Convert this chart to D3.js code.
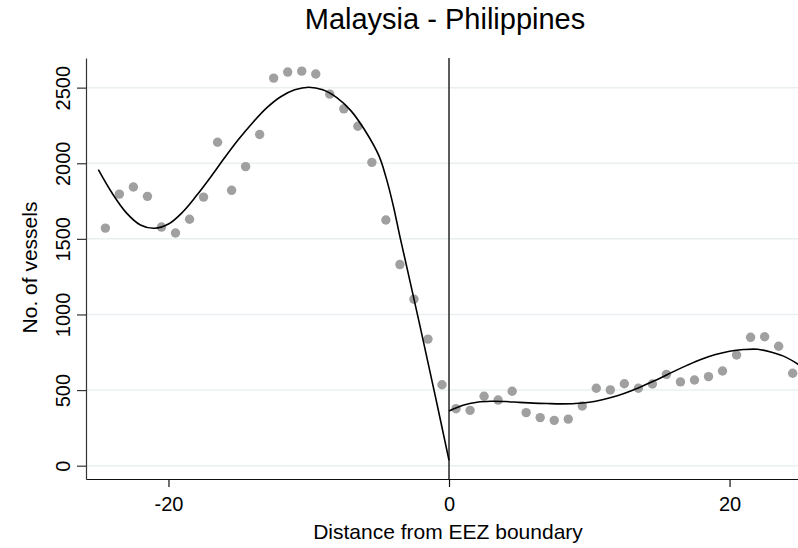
<!DOCTYPE html>
<html>
<head>
<meta charset="utf-8">
<script src="https://cdn.jsdelivr.net/npm/d3@7"></script>
<style>
  body { margin: 0; background: #fff; }
  text { font-family: "Liberation Sans", Arial, sans-serif; fill: #000; }
</style>
</head>
<body>
<div id="chart"></div>
<script>
// Binned counts: bin centres (distance from EEZ boundary) and number of vessels
var leftX = [-24.5, -23.5, -22.5, -21.5, -20.5, -19.5, -18.5, -17.5, -16.5, -15.5, -14.5, -13.5, -12.5,
  -11.5, -10.5, -9.5, -8.5, -7.5, -6.5, -5.5, -4.5, -3.5, -2.5, -1.5, -0.5];
var leftCounts = [1571, 1796, 1843, 1781, 1578, 1539, 1630, 1776, 2139, 1821, 1978, 2190, 2563,
  2603, 2609, 2590, 2457, 2360, 2245, 2006, 1625, 1330, 1101, 837, 535];
var rightX = [0.5, 1.5, 2.5, 3.5, 4.5, 5.5, 6.5, 7.5, 8.5, 9.5, 10.5, 11.5, 12.5, 13.5, 14.5, 15.5,
  16.5, 17.5, 18.5, 19.5, 20.5, 21.5, 22.5, 23.5, 24.5];
var rightCounts = [377, 366, 459, 434, 492, 351, 318, 300, 308, 395, 512, 501, 542, 512, 540, 604,
  554, 567, 589, 626, 732, 849, 853, 790, 611];

// Fitted curve on each side
var fitLeftX = [-25, -24, -23, -22, -21, -20, -19, -18, -17, -16, -15, -14, -13, -12, -11, -10, -9,
  -8, -7, -6, -5, -4.5, -4, -3.5, -3, -2, -1, 0];
var fitLeftY = [1958, 1800, 1672, 1592, 1570, 1598, 1676, 1786, 1908, 2036, 2158, 2268, 2366, 2440,
  2486, 2503, 2486, 2434, 2348, 2218, 2050, 1910, 1730, 1515, 1310, 895, 470, 35];
var fitRightX = [0, 1, 2, 3, 4, 5, 6, 7, 8, 9, 10, 11, 12, 13, 14, 15, 16, 17, 18, 19, 20, 21, 22,
  23, 24, 25];
var fitRightY = [362, 400, 420, 426, 424, 419, 414, 411, 409, 411, 420, 438, 462, 495, 535, 576,
  622, 665, 704, 735, 757, 768, 770, 750, 718, 664];

var xTicks = [-20, 0, 20];
var yTicks = [0, 500, 1000, 1500, 2000, 2500];

var W = 798, H = 548;
var margin = { top: 58, right: 0, bottom: 69, left: 86 },
  width = W - margin.left - margin.right,
  height = H - margin.top - margin.bottom;

var svg = d3.select('#chart').append('svg')
  .attr('width', W)
  .attr('height', H);

var x = d3.scaleLinear().domain([-25.88, 24.88]).range([0, width]);
var y = d3.scaleLinear().domain([-88, 2696]).range([height, 0]);

var g = svg.append('g')
  .attr('transform', 'translate(' + margin.left + ',' + margin.top + ')');

// horizontal gridlines
g.selectAll('.grid')
  .data(yTicks)
  .enter()
  .append('line')
  .attr('x1', 0)
  .attr('x2', width)
  .attr('y1', function (d) { return y(d); })
  .attr('y2', function (d) { return y(d); })
  .attr('stroke', '#eaf0f2')
  .attr('stroke-width', 1.5);

var plain = function (d) { return String(d); };

// y axis
var yAxis = g.append('g')
  .call(d3.axisLeft(y).tickValues(yTicks).tickFormat(plain).tickSize(9).tickSizeOuter(0));
yAxis.select('.domain').attr('stroke', '#333').attr('stroke-width', 1.2);
yAxis.selectAll('.tick line').attr('stroke', '#333').attr('stroke-width', 1.2);
yAxis.selectAll('.tick text')
  .attr('font-size', 20)
  .attr('transform', 'rotate(-90)')
  .attr('x', 0)
  .attr('y', -16)
  .attr('dy', 0)
  .attr('text-anchor', 'middle');

// x axis
var xAxis = g.append('g')
  .attr('transform', 'translate(0,' + height + ')')
  .call(d3.axisBottom(x).tickValues(xTicks).tickFormat(plain).tickSize(8).tickSizeOuter(0));
xAxis.select('.domain').attr('stroke', '#111').attr('stroke-width', 1.2);
xAxis.selectAll('.tick line').attr('stroke', '#111').attr('stroke-width', 1.2);
xAxis.selectAll('.tick text')
  .attr('font-size', 20)
  .attr('dy', 0)
  .attr('y', 32);

// boundary line at 0
g.append('line')
  .attr('x1', x(0))
  .attr('x2', x(0))
  .attr('y1', 0)
  .attr('y2', height)
  .attr('stroke', '#333')
  .attr('stroke-width', 1.6);

// scatter points
var pts = leftX.map(function (d, i) { return [d, leftCounts[i]]; })
  .concat(rightX.map(function (d, i) { return [d, rightCounts[i]]; }));
g.selectAll('circle')
  .data(pts)
  .enter()
  .append('circle')
  .attr('cx', function (d) { return x(d[0]); })
  .attr('cy', function (d) { return y(d[1]); })
  .attr('r', 4.7)
  .attr('fill', '#a0a0a0');

// fitted lines
var line = d3.line()
  .x(function (d) { return x(d[0]); })
  .y(function (d) { return y(d[1]); })
  .curve(d3.curveCatmullRom.alpha(0.5));
g.append('path')
  .datum(fitLeftX.map(function (d, i) { return [d, fitLeftY[i]]; }))
  .attr('d', line)
  .attr('fill', 'none')
  .attr('stroke', '#000')
  .attr('stroke-width', 1.6);
g.append('path')
  .datum(fitRightX.map(function (d, i) { return [d, fitRightY[i]]; }))
  .attr('d', line)
  .attr('fill', 'none')
  .attr('stroke', '#000')
  .attr('stroke-width', 1.6);

// titles
svg.append('text')
  .attr('x', 445)
  .attr('y', 29)
  .attr('text-anchor', 'middle')
  .attr('font-size', 29)
  .text('Malaysia - Philippines');

svg.append('text')
  .attr('x', 448)
  .attr('y', 539)
  .attr('text-anchor', 'middle')
  .attr('font-size', 21)
  .text('Distance from EEZ boundary');

svg.append('text')
  .attr('transform', 'translate(37,' + 267.5 + ') rotate(-90)')
  .attr('text-anchor', 'middle')
  .attr('font-size', 21)
  .text('No. of vessels');
</script>
</body>
</html>
